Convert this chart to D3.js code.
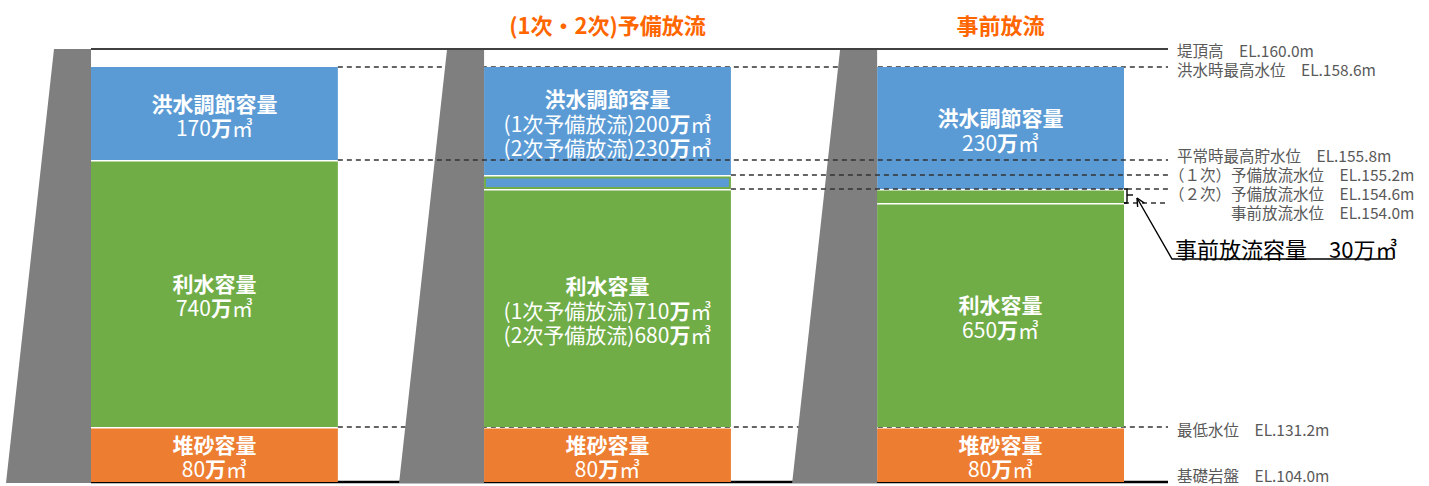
<!DOCTYPE html>
<html>
<head>
<meta charset="utf-8">
<script src="https://cdn.jsdelivr.net/npm/d3@7"></script>
<style>
  body { margin: 0; background: #fff; }
  svg { display: block; font-family: "Noto Sans CJK JP", "Noto Sans", sans-serif; }
</style>
</head>
<body>
<script>
// water levels (EL, m) and their names
var levelNames = ["堤頂高", "洪水時最高水位", "平常時最高貯水位", "（１次）予備放流水位", "（２次）予備放流水位", "　　　　事前放流水位", "最低水位", "基礎岩盤"];
var levelEL = [160.0, 158.6, 155.8, 155.2, 154.6, 154.0, 131.2, 104.0];

// the drawing is a schematic, so elevation maps to screen piecewise
var levelY = [49, 67, 160, 175, 189, 203, 427, 482];

// line style per level, bar whose right edge starts the line (-1 = left of first bar), drawn over bars?
var levelStyle = ["solid", "dash", "dash", "dash", "dash", "dash", "dash", "solid"];
var levelFrom = [-1, 0, 0, 1, 1, 2, 0, -1];
var levelOnTop = [true, false, true, true, true, true, false, false];

var panelTitles = ["", "(1次・2次)予備放流", "事前放流"];

// storage segments per panel: [bottom EL, top EL, kind]
var segments = [
  [[104.0, 131.2, "sed"], [131.2, 155.8, "water"], [155.8, 158.6, "flood"]],
  [[104.0, 131.2, "sed"], [131.2, 154.6, "water"], [154.6, 155.2, "reserve"], [155.2, 158.6, "flood"]],
  [[104.0, 131.2, "sed"], [131.2, 154.0, "water"], [154.0, 154.6, "prior"], [154.6, 158.6, "flood"]]
];

var floodText = [
  ["洪水調節容量", "170万㎥"],
  ["洪水調節容量", "(1次予備放流)200万㎥", "(2次予備放流)230万㎥"],
  ["洪水調節容量", "230万㎥"]
];
var waterText = [
  ["利水容量", "740万㎥"],
  ["利水容量", "(1次予備放流)710万㎥", "(2次予備放流)680万㎥"],
  ["利水容量", "650万㎥"]
];
var sedText = [
  ["堆砂容量", "80万㎥"],
  ["堆砂容量", "80万㎥"],
  ["堆砂容量", "80万㎥"]
];
var priorName = "事前放流容量";
var priorVolume = "30万㎥";

var W = 1429, H = 486;
var colors = {flood: "#5B9BD5", water: "#70AD47", sed: "#ED7D31", reserve: "#5B9BD5", prior: "#70AD47"};

var svg = d3.select("body").append("svg").attr("width", W).attr("height", H);

var y = d3.scaleLinear().domain(levelEL).range(levelY);
var x = d3.scaleBand().domain([0, 1, 2]).range([91, 1124]).paddingInner(0.372);
var lineEnd = 1168;

function lineStart(i) {
  return levelFrom[i] < 0 ? x(0) : x(levelFrom[i]) + x.bandwidth();
}

function drawLevel(g, i) {
  var solid = levelStyle[i] == "solid";
  g.append("line")
    .attr("x1", lineStart(i)).attr("x2", lineEnd)
    .attr("y1", y(levelEL[i])).attr("y2", y(levelEL[i]))
    .attr("stroke", solid ? (i == 0 ? "#404040" : "#000") : "#333")
    .attr("stroke-width", solid ? (i == 0 ? 1.8 : 2.5) : 1.3)
    .attr("stroke-dasharray", solid ? null : "5,4");
}

// lines behind the bars
var under = svg.append("g");
levelEL.forEach(function(d, i) { if (!levelOnTop[i]) drawLevel(under, i); });

// bars
var gap = 1.5;
segments.forEach(function(segs, p) {
  var g = svg.append("g");
  var top = d3.max(segs, function(s) { return s[1]; });
  segs.forEach(function(s) {
    var y0 = y(s[1]) + (s[1] == top ? 0 : gap);
    var y1 = y(s[0]);
    if (s[2] == "reserve") {
      g.append("rect")
        .attr("x", x(p) + 1).attr("y", y0 + 1)
        .attr("width", x.bandwidth() - 2).attr("height", y1 - y0 - 2)
        .attr("fill", colors.reserve).attr("stroke", colors.water).attr("stroke-width", 2);
    } else if (s[2] == "prior") {
      g.append("rect")
        .attr("x", x(p) - 2).attr("y", y0)
        .attr("width", x.bandwidth() + 2).attr("height", y1 - y0)
        .attr("fill", colors.prior);
    } else {
      g.append("rect")
        .attr("x", x(p)).attr("y", y0)
        .attr("width", x.bandwidth()).attr("height", y1 - y0)
        .attr("fill", colors[s[2]]);
    }
  });
});

// dams
[0, 1, 2].forEach(function(p) {
  var l = x(p), t = y(160.0), b = y(104.0) + 1;
  svg.append("path")
    .attr("d", "M" + (l - 37) + "," + t + "L" + l + "," + t + "L" + l + "," + b + "L" + (l - 85) + "," + b + "Z")
    .attr("fill", "#7F7F7F");
});

// lines over the bars
var over = svg.append("g");
levelEL.forEach(function(d, i) { if (levelOnTop[i]) drawLevel(over, i); });

// labels in the bars
function blockText(p, lo, hi, lines) {
  var cx = x(p) + x.bandwidth() / 2;
  var cy = (y(lo) + y(hi)) / 2 + 1.5;
  var lh = 24.5;
  lines.forEach(function(t, k) {
    var txt = svg.append("text")
      .attr("x", cx).attr("y", cy + (k - (lines.length - 1) / 2) * lh)
      .attr("text-anchor", "middle").attr("dominant-baseline", "central")
      .attr("fill", "#fff").attr("font-size", 21);
    if (k == 0) {
      txt.attr("font-weight", "bold").text(t);
    } else {
      var parts = t.split("万");
      txt.append("tspan").text(parts[0]);
      txt.append("tspan").attr("font-weight", "bold").text("万");
      txt.append("tspan").text(parts[1]);
    }
  });
}
segments.forEach(function(segs, p) {
  segs.forEach(function(s) {
    if (s[2] == "flood") blockText(p, s[0], s[1], floodText[p]);
    else if (s[2] == "water") blockText(p, s[0], s[1], waterText[p]);
    else if (s[2] == "sed") blockText(p, s[0], s[1], sedText[p]);
  });
});

// titles
panelTitles.forEach(function(t, p) {
  if (!t) return;
  svg.append("text")
    .attr("x", x(p) + x.bandwidth() / 2).attr("y", 24)
    .attr("text-anchor", "middle").attr("dominant-baseline", "central")
    .attr("fill", "#FF6600").attr("font-weight", "bold").attr("font-size", 22)
    .text(t);
});

// right side level labels, spread so they don't collide
function spread(pos, minGap) {
  var groups = pos.map(function(v, i) { return {items: [i], c: v}; });
  var changed = true;
  while (changed) {
    changed = false;
    for (var k = 0; k < groups.length - 1; k++) {
      var a = groups[k], b = groups[k + 1];
      var aEnd = a.c + (a.items.length - 1) * minGap / 2;
      var bStart = b.c - (b.items.length - 1) * minGap / 2;
      if (bStart - aEnd < minGap) {
        var items = a.items.concat(b.items);
        groups.splice(k, 2, {items: items, c: d3.mean(items, function(i) { return pos[i]; })});
        changed = true;
        break;
      }
    }
  }
  var out = [];
  groups.forEach(function(g) {
    g.items.forEach(function(i, k) { out[i] = g.c + (k - (g.items.length - 1) / 2) * minGap; });
  });
  return out;
}
var labelY = spread(levelEL.map(function(d) { return y(d); }), 19);
levelNames.forEach(function(n, i) {
  var indent = (n[0] == "（" || n[0] == "　") ? 8 : 0;
  svg.append("text")
    .attr("x", 1177 - indent).attr("y", Math.min(labelY[i] + 1.5, H - 11))
    .attr("dominant-baseline", "central")
    .attr("fill", "#595959").attr("font-size", 15.5)
    .style("white-space", "pre")
    .text(n + "　EL." + levelEL[i].toFixed(1) + "m");
});

// prior release volume callout
var bx = x(2) + x.bandwidth();
var yb0 = y(154.6), yb1 = y(154.0), ym = (yb0 + yb1) / 2;
var call = svg.append("g").attr("stroke", "#000").attr("fill", "none").attr("stroke-width", 1.4);
call.append("path").attr("d", "M" + (bx) + "," + yb0 + "H" + (bx + 3) + "V" + yb1 + "H" + bx);
call.append("path").attr("d", "M" + (bx + 3) + "," + (ym - 1) + "H" + (bx + 9));
var tipX = bx + 13, tipY = ym + 2;
var ux = 1172, uy = 259, uEnd = 1393;
call.append("path").attr("d", "M" + uEnd + "," + uy + "H" + ux + "L" + tipX + "," + tipY);
var ang = Math.atan2(uy - tipY, ux - tipX);
[0.45, -0.45].forEach(function(da) {
  call.append("line")
    .attr("x1", tipX).attr("y1", tipY)
    .attr("x2", tipX + 9 * Math.cos(ang + da)).attr("y2", tipY + 9 * Math.sin(ang + da));
});
svg.append("text")
  .attr("x", 1175).attr("y", 248)
  .attr("dominant-baseline", "central")
  .attr("fill", "#000").attr("font-size", 22)
  .text(priorName + "　" + priorVolume);
</script>
</body>
</html>
